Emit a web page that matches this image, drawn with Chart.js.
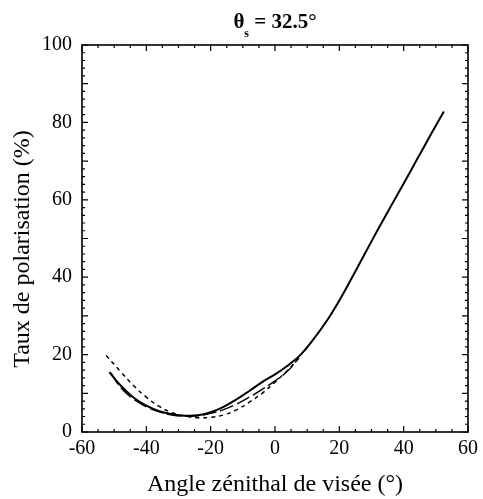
<!DOCTYPE html>
<html>
<head>
<meta charset="utf-8">
<script src="https://cdn.jsdelivr.net/npm/chart.js@4.4.1/dist/chart.umd.min.js"></script>
<style>
html, body { margin: 0; padding: 0; background: #fff; }
</style>
</head>
<body>
<canvas id="myChart" width="483" height="499"></canvas>
<script>
// valeurs (theta_s = 32.5)
const angleCourbe1 = [-51.5, -48, -44, -40, -36, -32, -28, -24, -20, -16, -12, -8, -4, 0, 4, 8, 12, 16, 20, 24, 28, 32, 36, 40, 44, 48, 52.5]
const tauxCourbe1 = [15.5, 12.0, 8.9, 6.8, 5.4, 4.6, 4.2, 4.3, 5.1, 6.5, 8.4, 10.6, 12.9, 14.9, 17.2, 20.0, 24.0, 28.6, 34.0, 40.0, 46.2, 52.3, 58.3, 64.2, 70.2, 76.2, 82.8]

const angleCourbe2 = [-51, -48, -44, -40, -36, -32, -28, -24, -20, -16, -12, -8, -4, 0, 4, 7.5]
const tauxCourbe2 = [15.3, 11.5, 8.5, 6.5, 5.2, 4.4, 4.1, 4.2, 4.8, 5.8, 7.2, 9.0, 11.0, 13.2, 15.8, 19.2]

const angleCourbe3 = [-52.5, -48, -44, -40, -36, -32, -28, -24, -20, -16, -12, -8, -4, 0, 4, 8]
const tauxCourbe3 = [19.8, 15.6, 12.0, 9.0, 6.6, 5.0, 4.1, 3.7, 3.8, 4.4, 5.7, 7.7, 10.0, 12.9, 16.0, 19.8]

const ticksX = [-60, -40, -20, 0, 20, 40, 60]
const ticksY = [0, 20, 40, 60, 80, 100]

const titreY = 'Taux de polarisation (%)'

function points(xs, ys) {
    return xs.map((x, i) => ({ x: x, y: ys[i] }))
}

// cadre, petites graduations vers l'interieur, titres
const cadre = {
    id: 'cadre',
    afterDraw(chart) {
        const ctx = chart.ctx
        const a = chart.chartArea
        const sx = chart.scales.x
        const sy = chart.scales.y
        ctx.save()
        ctx.strokeStyle = '#000'
        ctx.lineWidth = 1.6
        ctx.strokeRect(a.left, a.top, a.right - a.left, a.bottom - a.top)
        ctx.lineWidth = 1.2
        ctx.beginPath()
        for (let v = -60; v <= 60; v += 5) {
            const px = sx.getPixelForValue(v)
            const len = v % 20 === 0 ? 6 : 3
            ctx.moveTo(px, a.bottom); ctx.lineTo(px, a.bottom - len)
            ctx.moveTo(px, a.top); ctx.lineTo(px, a.top + len)
        }
        for (let v = 0; v <= 100; v += 2) {
            const py = sy.getPixelForValue(v)
            const len = v % 10 === 0 ? 6 : 3
            ctx.moveTo(a.left, py); ctx.lineTo(a.left + len, py)
            ctx.moveTo(a.right, py); ctx.lineTo(a.right - len, py)
        }
        ctx.stroke()

        ctx.fillStyle = '#000'

        // titre de l'axe y (un peu plus bas que le centre, comme l'original)
        ctx.save()
        ctx.translate(23, 249)
        ctx.rotate(-Math.PI / 2)
        ctx.font = '24px "Liberation Serif"'
        ctx.textAlign = 'center'
        ctx.textBaseline = 'middle'
        ctx.fillText(titreY, 0, 0)
        ctx.restore()

        // titre : theta indice s = 32.5°
        const t1 = 'θ', t2 = 's', t3 = ' = 32.5°'
        ctx.textBaseline = 'alphabetic'
        ctx.textAlign = 'left'
        const grand = 'bold 21px "Liberation Serif"'
        const petit = 'bold 12px "Liberation Serif"'
        ctx.font = grand
        const w1 = ctx.measureText(t1).width
        const w3 = ctx.measureText(t3).width
        ctx.font = petit
        const w2 = ctx.measureText(t2).width
        let x0 = (a.left + a.right) / 2 - (w1 + w2 + w3) / 2
        ctx.font = grand
        ctx.fillText(t1, x0, 28)
        ctx.font = petit
        ctx.fillText(t2, x0 + w1, 37)
        ctx.font = grand
        ctx.fillText(t3, x0 + w1 + w2, 28)
        ctx.restore()
    }
}

const data = {
    datasets: [{
        label: 'courbe 1',
        data: points(angleCourbe1, tauxCourbe1),
        borderColor: '#000',
        borderWidth: 2,
        pointRadius: 0,
        tension: 0.4
    }, {
        label: 'courbe 2',
        data: points(angleCourbe2, tauxCourbe2),
        borderColor: '#000',
        borderWidth: 1.4,
        borderDash: [14, 4],
        pointRadius: 0,
        tension: 0.4
    }, {
        label: 'courbe 3',
        data: points(angleCourbe3, tauxCourbe3),
        borderColor: '#000',
        borderWidth: 1.5,
        borderDash: [4, 4],
        pointRadius: 0,
        tension: 0.4
    }]
}

const config = {
    type: 'line',
    data: data,
    options: {
        responsive: false,
        animation: false,
        layout: { padding: { top: 45, right: 12, bottom: 0, left: 0 } },
        plugins: {
            legend: { display: false },
            tooltip: { enabled: false }
        },
        scales: {
            x: {
                type: 'linear',
                min: -60,
                max: 60,
                afterFit: s => { s.height = 67 },
                afterBuildTicks: s => { s.ticks = ticksX.map(v => ({ value: v })) },
                grid: { display: false, drawTicks: false },
                border: { display: false },
                ticks: {
                    color: '#000',
                    padding: 5,
                    maxRotation: 0,
                    font: { family: '"Liberation Serif"', size: 20 }
                },
                title: {
                    display: true,
                    text: 'Angle zénithal de visée (°)',
                    color: '#000',
                    padding: 0,
                    font: { family: '"Liberation Serif"', size: 24 }
                }
            },
            y: {
                min: 0,
                max: 100,
                afterFit: s => { s.width = 82 },
                afterBuildTicks: s => { s.ticks = ticksY.map(v => ({ value: v })) },
                grid: { display: false, drawTicks: false },
                border: { display: false },
                ticks: {
                    color: '#000',
                    padding: 10,
                    font: { family: '"Liberation Serif"', size: 20 }
                },
                title: { display: false }
            }
        }
    },
    plugins: [cadre]
}

const myChart = new Chart(document.getElementById('myChart'), config)
</script>
</body>
</html>
